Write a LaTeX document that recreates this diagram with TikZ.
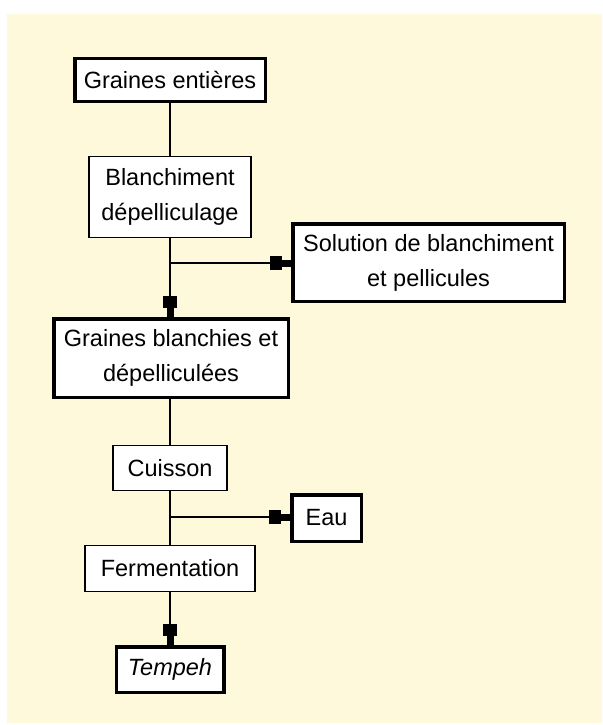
\documentclass[tikz,border=0pt]{standalone}
\usepackage{fontspec}
\setmainfont{Liberation Sans}
\usetikzlibrary{arrows.meta}
\definecolor{cream}{RGB}{255,249,220}
\begin{document}
\begin{tikzpicture}[x=1pt,y=-1pt,
  box/.style={draw=black,fill=white,line width=1.2pt,inner sep=0pt,align=center,font=\fontsize{23.5}{35}\selectfont},
  boxthick/.style={box,line width=3.5pt},
  conn/.style={line width=1.4pt},
  arr/.style={conn,-{Rectangle[length=12pt,width=14pt,sep=0pt]Rectangle[length=9pt,width=7pt,sep=0pt]}}
]
\useasboundingbox (0,0) rectangle (602,725);
\fill[white] (0,0) rectangle (602,725);
\fill[cream] (7,14) rectangle (602,723);

\node[boxthick,minimum width=190.5pt,minimum height=42.5pt] (ge) at (170,80) {Graines entières};
\node[box,minimum width=162pt,minimum height=81pt] (bl) at (170,197) {Blanchiment\\dépelliculage};
\node[boxthick,minimum width=271.5pt,minimum height=77.5pt] (sol) at (428.5,262.5) {Solution de blanchiment\\et pellicules};
\node[boxthick,minimum width=234.5pt,minimum height=78.5pt] (gb) at (171,358) {Graines blanchies et\\dépelliculées};
\node[box,minimum width=114pt,minimum height=45pt] (cu) at (170,468) {Cuisson};
\node[boxthick,minimum width=69.5pt,minimum height=46.5pt] (eau) at (326.5,518) {Eau};
\node[box,minimum width=170pt,minimum height=46pt] (fe) at (170,568.5) {Fermentation};
\node[boxthick,minimum width=107.5pt,minimum height=45.5pt] (te) at (170,669.5) {\textit{Tempeh}};

\coordinate (b1) at (170,263);
\coordinate (b2) at (170,517);

\draw[conn] (ge.south) -- (bl.north);
\draw[arr] (bl.south) -- (bl.south |- gb.north);
\draw[arr] (b1) -- (b1 -| sol.west);
\draw[conn] (gb.south -| cu.north) -- (cu.north);
\draw[conn] (cu.south) -- (fe.north);
\draw[arr] (b2) -- (b2 -| eau.west);
\draw[arr] (fe.south) -- (te.north);
\end{tikzpicture}
\end{document}
